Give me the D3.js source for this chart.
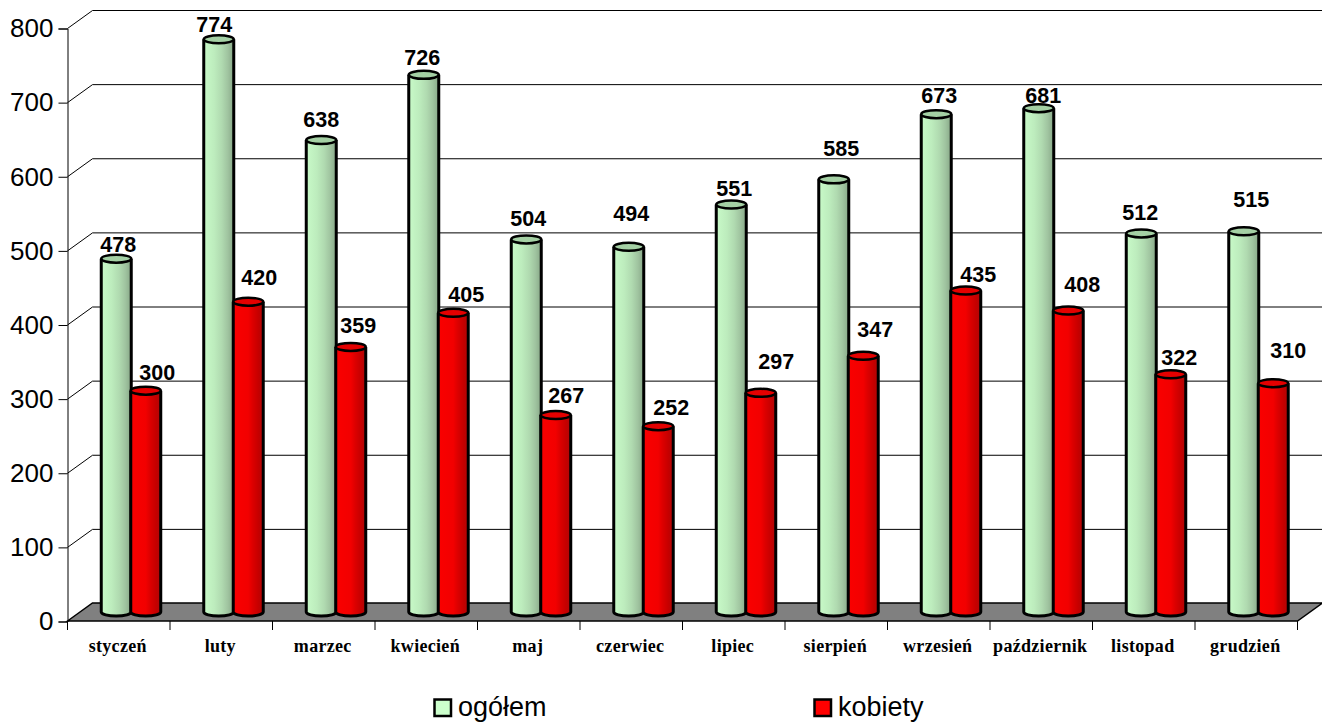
<!DOCTYPE html>
<html><head><meta charset="utf-8">
<style>html,body{margin:0;background:#fff}svg{display:block}</style>
<script src="https://cdn.jsdelivr.net/npm/d3@7"></script></head>
<body><svg id="c" width="1322" height="722"></svg>
<script>
const categories=["styczeń","luty","marzec","kwiecień","maj","czerwiec","lipiec","sierpień","wrzesień","październik","listopad","grudzień"];
const ogolem=[478,774,638,726,504,494,551,585,673,681,512,515];
const kobiety=[300,420,359,405,267,252,297,347,435,408,322,310];
const yTicks=[0,100,200,300,400,500,600,700,800];
// label offsets from the top centre of each cylinder, as placed in the source chart
const ogolemLabelDx=[2,-4.5,0,-1.5,2,2.5,3,7.5,3,4.5,-1,7.5];
const ogolemLabelDy=[-7,-7,-13,-10,-13,-26,-9,-23,-11,-5,-13,-24];
const kobietyLabelDx=[11.5,11,7.5,13,10.5,13,15.5,12,12.5,14,8.5,15];
const kobietyLabelDy=[-11,-17,-14,-11,-12,-11,-24,-19,-9,-19,-9,-25];
const svg=d3.select("#c");
const depthX=25,depthY=18,barW=30,ry=4,topShift=1;
const x=d3.scaleBand().domain(categories).range([67.5,1297.5]);
const y=d3.scaleLinear().domain([0,800]).range([621,28]);
const defs=svg.append("defs");
function grad(id,stops){const g=defs.append("linearGradient").attr("id",id);
 stops.forEach(s=>g.append("stop").attr("offset",s[0]).attr("stop-color",s[1]));}
grad("gG",[[0,"#c8fac8"],[.35,"#bdecbd"],[.6,"#b0dab0"],[.8,"#a0c4a0"],[1,"#88a888"]]);
grad("gR",[[0,"#fa0000"],[.5,"#f20000"],[.65,"#dc0000"],[.85,"#c40000"],[1,"#ac0808"]]);
svg.append("path").attr("d",`M67.5,${y(0)}L${67.5+depthX},${y(0)-depthY}H${1297.5+depthX}L1297.5,${y(0)}Z`)
 .attr("fill","#808080").attr("stroke","#000").attr("stroke-width",1.5);
const tk=yTicks.filter(d=>d>0);
svg.selectAll(".g").data(tk).join("path").attr("fill","none").attr("stroke","#000").attr("stroke-width",1)
 .attr("d",d=>`M67.5,${y(d)+.5}L${67.5+depthX},${y(d)-depthY+.5}H1322`);
const yAxis=d3.axisLeft(y).tickValues(yTicks).tickSize(9).tickPadding(5);
const ga=svg.append("g").attr("transform","translate(67.5,0.5)").call(yAxis);
ga.select(".domain").attr("stroke","#000");
ga.selectAll("text").attr("font-family","'Liberation Sans'").attr("font-size",26).attr("fill","#000");
const edges=categories.map(c=>x(c)).concat([x.range()[1]]);
svg.selectAll(".xt").data(edges).join("line").attr("x1",d=>d).attr("x2",d=>d).attr("y1",621).attr("y2",630).attr("stroke","#000");
svg.selectAll(".xl").data(categories).join("text").text(d=>d)
 .attr("x",d=>x(d)+x.bandwidth()/2-1).attr("y",652).attr("text-anchor","middle")
 .attr("font-family","'Liberation Serif'").attr("font-weight","bold").attr("font-size",18).attr("letter-spacing",0.3).attr("fill","#000");
function cyl(vals,name,off,grd,topFill,dxs,dys){
 const g=svg.append("g").attr("class",name);
 const cx=i=>x(categories[i])+x.bandwidth()/2+depthX/2+off;
 const top=v=>y(v)-depthY/2+topShift;
 const base=y(0)-depthY/2;
 g.selectAll("path.b").data(vals).join("path").attr("class","b")
  .attr("fill",`url(#${grd})`).attr("stroke","#000").attr("stroke-width",3)
  .attr("d",(v,i)=>{const c=cx(i);return `M${c-barW/2},${top(v)}V${base}A${barW/2},${ry} 0 0 0 ${c+barW/2},${base}V${top(v)}`;});
 g.selectAll("ellipse").data(vals).join("ellipse")
  .attr("cx",(v,i)=>cx(i)).attr("cy",top).attr("rx",barW/2).attr("ry",ry)
  .attr("fill",topFill).attr("stroke","#000").attr("stroke-width",2.5);
 g.selectAll("text").data(vals).join("text").text(v=>v)
  .attr("x",(v,i)=>cx(i)+dxs[i]).attr("y",(v,i)=>top(v)+dys[i]).attr("text-anchor","middle")
  .attr("font-family","'Liberation Sans'").attr("font-weight","bold").attr("font-size",21.5).attr("fill","#000");
}
cyl(ogolem,"ogolem",-15,"gG","#a4d0a4",ogolemLabelDx,ogolemLabelDy);
cyl(kobiety,"kobiety",14.5,"gR","#e40000",kobietyLabelDx,kobietyLabelDy);
const legend=[["ogółem","#ccffcc",434.5],["kobiety","#ff0000",814.5]];
legend.forEach(l=>{
 svg.append("rect").attr("x",l[2]).attr("y",699.5).attr("width",16.5).attr("height",16.5).attr("fill",l[1]).attr("stroke","#000").attr("stroke-width",2.5);
 svg.append("text").text(l[0]).attr("x",l[2]+23.5).attr("y",716).attr("font-family","'Liberation Sans'").attr("font-size",27).attr("fill","#000");
});
</script></body></html>
